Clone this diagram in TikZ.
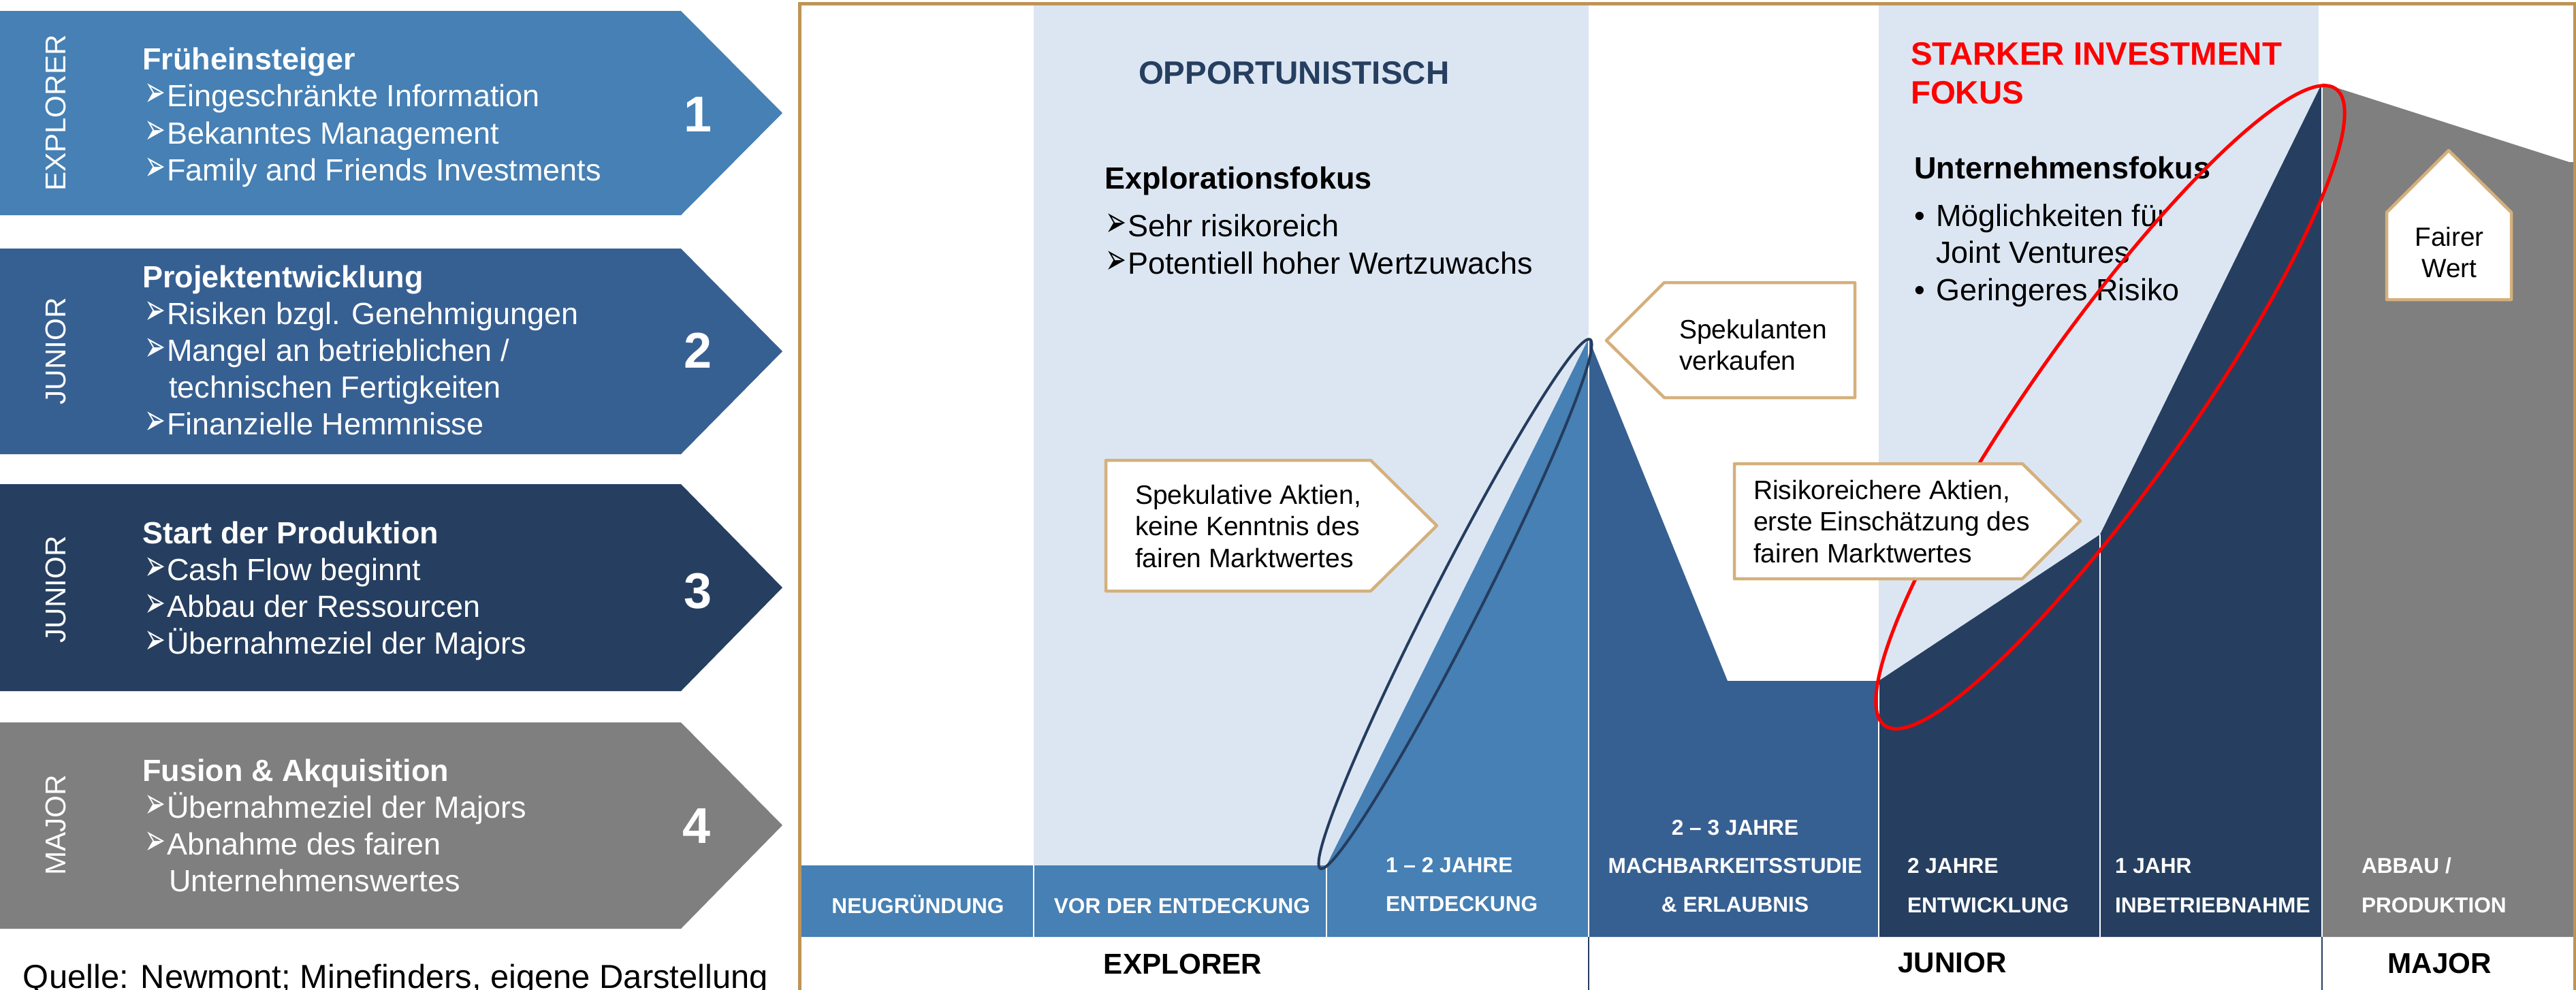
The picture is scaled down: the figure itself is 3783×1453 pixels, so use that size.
\documentclass[tikz,border=0pt]{standalone}
\usepackage{graphicx}
\usepackage{fontspec}
\setmainfont{Liberation Sans}
\newfontfamily\dejavu{DejaVu Sans}
\definecolor{cA}{RGB}{70,128,180}
\definecolor{cB}{RGB}{55,96,146}
\definecolor{cC}{RGB}{38,63,96}
\definecolor{cG}{RGB}{127,127,127}
\definecolor{bandc}{RGB}{220,230,242}
\definecolor{framec}{RGB}{190,148,85}
\definecolor{calloutc}{RGB}{212,176,124}
\definecolor{ellc}{RGB}{36,60,94}
\newcommand\mystack[2]{\vtop{\baselineskip=#1\lineskiplimit=-100cm\relax #2}}
\newcommand\arrw{\makebox[0.36cm][l]{\hspace{0.03cm}\scalebox{1.05}[1.8]{\dejavu\fontsize{10}{10}\selectfont ➢}}}
\newcommand\indnt{\hspace{0.39cm}}
\newcommand\bul{\makebox[0.32cm][l]{•}}
\newcommand\ctr[1]{\hbox to 0pt{\hss #1\hss}}
\begin{document}
\begin{tikzpicture}[x=0.01cm, y=-0.01cm,
  every node/.style={inner sep=0pt, outer sep=0pt},
  txt/.style={anchor=base west, font=\fontsize{12.8}{15.36}\selectfont},
  wtxt/.style={txt, text=white},
  hdr/.style={anchor=base west, font=\fontsize{13.5}{16}\selectfont\bfseries},
  num/.style={text=white, font=\fontsize{21}{25}\selectfont\bfseries},
  vlab/.style={text=white, rotate=90, font=\fontsize{12}{14}\selectfont},
  cal/.style={fill=white, draw=calloutc, line width=0.045cm, line join=round},
  ctxt/.style={anchor=base west, font=\fontsize{11.1}{13.3}\selectfont},
  bartxt/.style={text=white, font=\fontsize{9}{11}\selectfont\bfseries},
  cat/.style={anchor=base, font=\fontsize{12}{14}\selectfont\bfseries},
  wsep/.style={white, line width=0.025cm},
  dsep/.style={cC, line width=0.02cm},
]
\useasboundingbox (0,0) rectangle (3783,1453);

% ---------- left chevrons ----------
\fill[cA] (0,16) -- (1000,16) -- (1149,166) -- (1000,316) -- (0,316) -- cycle;
\fill[cB] (0,365) -- (1000,365) -- (1149,516) -- (1000,667) -- (0,667) -- cycle;
\fill[cC] (0,711) -- (1000,711) -- (1149,863) -- (1000,1015) -- (0,1015) -- cycle;
\fill[cG] (0,1061) -- (1000,1061) -- (1149,1212) -- (1000,1364) -- (0,1364) -- cycle;

\node[vlab] (v1) at (82,166) {EXPLORER};
\node[vlab] (v2) at (82,516) {JUNIOR};
\node[vlab] (v3) at (82,866) {JUNIOR};
\node[vlab] (v4) at (82,1212) {MAJOR};

\node[num] (n1) at (1025,168) {1};
\node[num] (n2) at (1025,515) {2};
\node[num] (n3) at (1025,868) {3};
\node[num] (n4) at (1023,1213) {4};

\node[wtxt] (t1) at (209,102) {\mystack{0.545cm}{%
  \hbox{\bfseries Früheinsteiger}%
  \hbox{\arrw Eingeschränkte Information}%
  \hbox{\arrw Bekanntes Management}%
  \hbox{\arrw Family and Friends Investments}}};
\node[wtxt] (t2) at (209,422) {\mystack{0.54cm}{%
  \hbox{\bfseries Projektentwicklung}%
  \hbox{\arrw Risiken bzgl. Genehmigungen}%
  \hbox{\arrw Mangel an betrieblichen /}%
  \hbox{\indnt technischen Fertigkeiten}%
  \hbox{\arrw Finanzielle Hemmnisse}}};
\node[wtxt] (t3) at (209,798) {\mystack{0.54cm}{%
  \hbox{\bfseries Start der Produktion}%
  \hbox{\arrw Cash Flow beginnt}%
  \hbox{\arrw Abbau der Ressourcen}%
  \hbox{\arrw Übernahmeziel der Majors}}};
\node[wtxt] (t4) at (209,1147) {\mystack{0.54cm}{%
  \hbox{\bfseries Fusion \& Akquisition}%
  \hbox{\arrw Übernahmeziel der Majors}%
  \hbox{\arrw Abnahme des fairen}%
  \hbox{\indnt Unternehmenswertes}}};

\node[anchor=base west, font=\fontsize{13.9}{16}\selectfont] (src) at (34,1451) {Quelle: Newmont; Minefinders, eigene Darstellung};

% ---------- right panel ----------
\fill[bandc] (1518,7) rectangle (2333,1271);
\fill[bandc] (2759,7) rectangle (3405,1376);

% mountains and bars
\fill[cA] (1177,1271) -- (1948,1271) -- (2333,497) -- (2333,1376) -- (1177,1376) -- cycle;
\fill[cB] (2333,497) -- (2537,1000) -- (2759,1000) -- (2759,1376) -- (2333,1376) -- cycle;
\fill[cC] (2759,1000) -- (3084,785) -- (3410,122) -- (3410,1376) -- (2759,1376) -- cycle;
\fill[cG] (3410,122) -- (3773,238) -- (3781,238) -- (3781,1376) -- (3410,1376) -- cycle;

% separators
\coordinate (s1a) at (1518,1271); \coordinate (s1b) at (1518,1376);
\coordinate (s2a) at (1948,1274); \coordinate (s2b) at (1948,1376);
\coordinate (s3a) at (2333,492);  \coordinate (s3b) at (2333,1376);
\coordinate (s4a) at (2759,1002); \coordinate (s4b) at (2759,1376);
\coordinate (s5a) at (3084,785);  \coordinate (s5b) at (3084,1376);
\coordinate (s6a) at (3410,120);  \coordinate (s6b) at (3410,1376);
\draw[wsep] (s1a) -- (s1b);
\draw[wsep] (s2a) -- (s2b);
\draw[wsep] (s3a) -- (s3b);
\draw[wsep] (s4a) -- (s4b);
\draw[wsep] (s5a) -- (s5b);
\draw[wsep] (s6a) -- (s6b);
\coordinate (d1a) at (2333,1376); \coordinate (d1b) at (2333,1460);
\coordinate (d2a) at (3410,1376); \coordinate (d2b) at (3410,1460);
\draw[dsep] (d1a) -- (d1b);
\draw[dsep] (d2a) -- (d2b);

% headings and texts in the panel
\node[hdr, text=cC] (opp) at (1672,123) {OPPORTUNISTISCH};
\node[txt, font=\fontsize{12.8}{15.36}\selectfont\bfseries] (expf) at (1622,277) {Explorationsfokus};
\node[txt] (expl) at (1620,347) {\mystack{0.55cm}{%
  \hbox{\arrw Sehr risikoreich}%
  \hbox{\arrw Potentiell hoher Wertzuwachs}}};

\node[hdr, text=red] (stark) at (2806,95) {\mystack{0.575cm}{%
  \hbox{STARKER INVESTMENT}%
  \hbox{FOKUS}}};
\node[txt, font=\fontsize{12.8}{15.36}\selectfont\bfseries] (unf) at (2811,262) {Unternehmensfokus};
\node[txt] (unl) at (2811,332) {\mystack{0.545cm}{%
  \hbox{\bul Möglichkeiten für}%
  \hbox{\hspace{0.32cm}Joint Ventures}%
  \hbox{\bul Geringeres Risiko}}};

% ellipses
\draw[ellc, line width=0.04cm, rotate around={63:(2137,887)}] (2137,887) ellipse [x radius=436, y radius=36];
\draw[red, line width=0.05cm, rotate around={54.7:(3099,598)}] (3099,598) ellipse [x radius=573, y radius=115];

% callouts
\draw[cal] (1624,676) -- (2013,676) -- (2110,772) -- (2013,868) -- (1624,868) -- cycle;
\node[ctxt] (spa) at (1667,740) {\mystack{0.465cm}{%
  \hbox{Spekulative Aktien,}%
  \hbox{keine Kenntnis des}%
  \hbox{fairen Marktwertes}}};
\draw[cal] (2359,500) -- (2444,415) -- (2724,415) -- (2724,584) -- (2444,584) -- cycle;
\node[ctxt] (spv) at (2466,497) {\mystack{0.46cm}{%
  \hbox{Spekulanten}%
  \hbox{verkaufen}}};
\draw[cal] (2547,681) -- (2970,681) -- (3055,765) -- (2970,850) -- (2547,850) -- cycle;
\node[ctxt] (ria) at (2575,733) {\mystack{0.465cm}{%
  \hbox{Risikoreichere Aktien,}%
  \hbox{erste Einschätzung des}%
  \hbox{fairen Marktwertes}}};
\draw[cal] (3505,312) -- (3596,221) -- (3688,312) -- (3688,440) -- (3505,440) -- cycle;
\node[ctxt, anchor=base, font=\fontsize{11}{13}\selectfont] (fw) at (3597,361) {\mystack{0.46cm}{%
  \ctr{Fairer}%
  \ctr{Wert}}};

% bar labels
\node[bartxt, anchor=base] (b1) at (1348,1341) {NEUGRÜNDUNG};
\node[bartxt, anchor=base] (b2) at (1736,1341) {VOR DER ENTDECKUNG};
\node[bartxt, anchor=base west] (b3) at (2035,1281) {\mystack{0.57cm}{%
  \hbox{1 – 2 JAHRE}\hbox{ENTDECKUNG}}};
\node[bartxt, anchor=base] (b4) at (2548,1226) {\mystack{0.565cm}{%
  \ctr{2 – 3 JAHRE}\ctr{MACHBARKEITSSTUDIE}\ctr{\& ERLAUBNIS}}};
\node[bartxt, anchor=base west] (b5) at (2801,1282) {\mystack{0.58cm}{%
  \hbox{2 JAHRE}\hbox{ENTWICKLUNG}}};
\node[bartxt, anchor=base west] (b6) at (3106,1282) {\mystack{0.58cm}{%
  \hbox{1 JAHR}\hbox{INBETRIEBNAHME}}};
\node[bartxt, anchor=base west] (b7) at (3468,1282) {\mystack{0.58cm}{%
  \hbox{ABBAU /}\hbox{PRODUKTION}}};

% categories
\node[cat] (k1) at (1737,1430) {EXPLORER};
\node[cat] (k2) at (2867,1428) {JUNIOR};
\node[cat] (k3) at (3583,1429) {MAJOR};

% frame
\draw[framec, line width=0.05cm] (1174,1470) -- (1174,5) -- (3781,5) -- (3781,1470);
\end{tikzpicture}
\end{document}
